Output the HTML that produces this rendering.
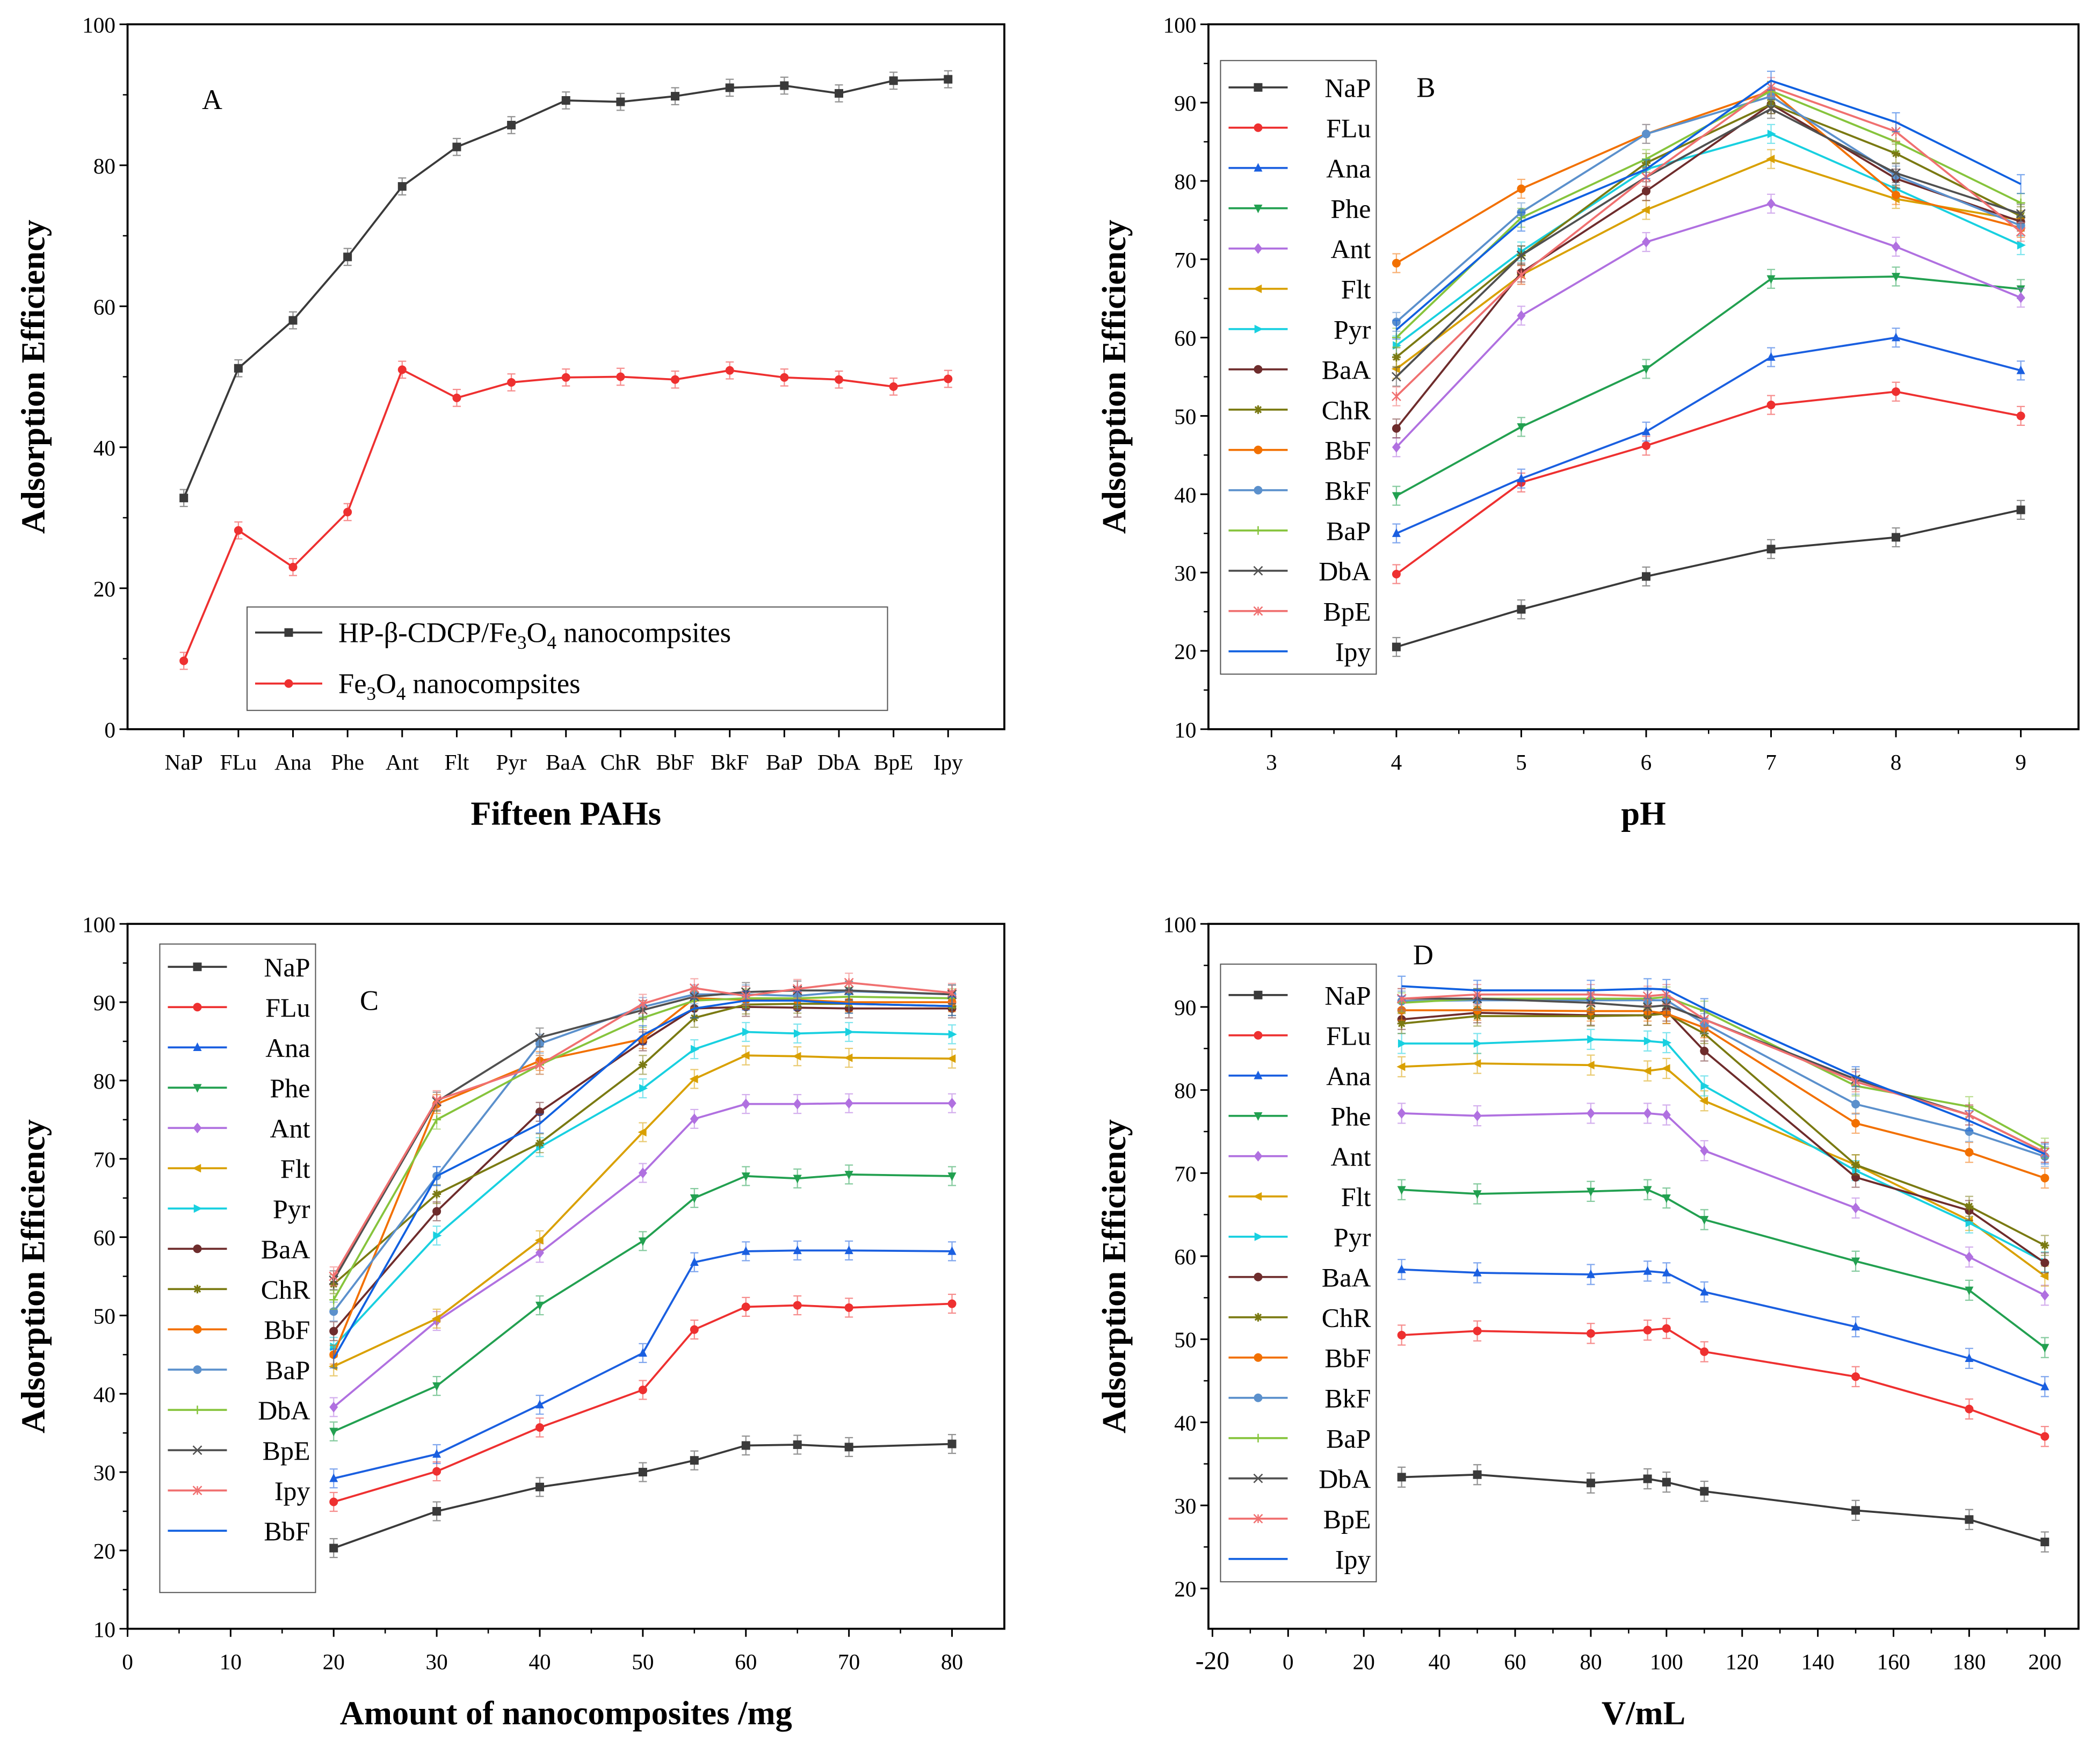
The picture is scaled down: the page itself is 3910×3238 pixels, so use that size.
<!DOCTYPE html>
<html><head><meta charset="utf-8">
<style>
html,body{margin:0;padding:0;background:#fff;}
svg{display:block;}
text{font-family:"Liberation Serif",serif;}
</style></head>
<body>
<svg id="chart" width="3910" height="3238" viewBox="0 0 1564 1295" xmlns="http://www.w3.org/2000/svg"></svg>
<script>
// ---------- DATA ----------
const pahNames = ["NaP","FLu","Ana","Phe","Ant","Flt","Pyr","BaA","ChR","BbF","BkF","BaP","DbA","BpE","Ipy"];
const panelALabels = ["NaP","FLu","Ana","Phe","Ant","Flt","Pyr","BaA","ChR","BbF","BkF","BaP","DbA","BpE","Ipy"];
const panelAComposite = [32.8,51.2,58,67,77,82.6,85.7,89.2,89,89.8,91,91.3,90.2,92,92.2];
const panelAFe3O4 = [9.7,28.2,23,30.8,51,47,49.2,49.9,50,49.6,50.9,49.9,49.6,48.6,49.7];

const phX = [4,5,6,7,8,9];
const phSeries = [
 [20.5,25.3,29.5,33,34.5,38],
 [29.8,41.5,46.2,51.4,53.1,50],
 [35,42,48,57.5,60,55.8],
 [39.8,48.6,56,67.5,67.8,66.2],
 [46,62.8,72.2,77.1,71.6,65.1],
 [56,68,76.3,82.8,77.7,75],
 [59,71,81.5,86,79,71.8],
 [48.4,68.3,78.7,89.8,80.3,74.8],
 [57.5,70.5,82.3,89.8,83.5,75.5],
 [69.5,79,86,91.5,78.2,74],
 [62,76,86,90.8,80.7,74.3],
 [60,75.3,82.8,91.5,85,77.2],
 [55,70.5,80.5,89.2,81,75.8],
 [52.5,68,80.5,92,86.3,73.5],
 [61,74.8,81.5,92.8,87.5,79.6]
];
const phTicks = [3,4,5,6,7,8,9];

const amountX = [20,30,40,50,55,60,65,70,80];
const amountNames = ["NaP","FLu","Ana","Phe","Ant","Flt","Pyr","BaA","ChR","BbF","BaP","DbA","BpE","Ipy","BbF"];
const amountSeries = [
 [20.3,25,28.1,30,31.5,33.4,33.5,33.2,33.6],
 [26.2,30.1,35.7,40.5,48.2,51.1,51.3,51,51.5],
 [29.2,32.3,38.6,45.2,56.8,58.2,58.3,58.3,58.2],
 [35.2,41,51.3,59.5,65,67.8,67.5,68,67.8],
 [38.3,49.3,58,68.2,75.1,77,77,77.1,77.1],
 [43.5,49.6,59.6,73.4,80.2,83.2,83.1,82.9,82.8],
 [46,60.2,71.5,79,84,86.2,86,86.2,85.9],
 [48,63.3,76,85,89.2,89.4,89.3,89.2,89.2],
 [54,65.5,72,82,88,89.7,89.8,89.8,89.5],
 [45,77,82.5,85.3,90.5,90.3,90.3,90,90],
 [50.5,67.8,84.7,89.4,91,91,90.8,91.4,91],
 [52,75,82,88,90.2,90.5,90.5,90.7,90.5],
 [54.5,77.3,85.5,89,90.7,91.3,91.5,91.5,91],
 [55,77.5,82,89.8,91.8,90.8,91.7,92.5,91.2],
 [44.5,67.8,74.5,85.8,89.2,90.2,90.2,89.8,89.5]
];
const amountTicks = [0,10,20,30,40,50,60,70,80];

const volX = [30,50,80,95,100,110,150,180,200];
const volSeries = [
 [33.4,33.7,32.7,33.2,32.8,31.7,29.4,28.3,25.6],
 [50.5,51,50.7,51.1,51.3,48.5,45.5,41.6,38.3],
 [58.4,58,57.8,58.2,58,55.7,51.5,47.7,44.3],
 [68,67.5,67.8,68,67,64.4,59.4,55.9,49],
 [77.2,76.9,77.2,77.2,77,72.7,65.8,59.9,55.3],
 [82.8,83.2,83,82.3,82.6,78.7,71,64.3,57.6],
 [85.6,85.6,86.1,85.9,85.7,80.5,70.3,64,59.3],
 [88.5,89.3,89,89,89.5,84.7,69.5,65.5,59.2],
 [88,88.9,88.9,89,89.2,86.8,71,66,61.3],
 [89.6,89.6,89.5,89.5,89.2,87.5,76,72.5,69.4],
 [90.7,90.8,90.8,90.8,90.8,88,78.3,75,72],
 [90.5,91,91,91,91.2,89.5,80.5,78,73],
 [91,91,90.5,90,90.2,88.5,81.3,77,72.5],
 [91,91.5,91.5,91.3,91.5,88.5,81,77,72.5],
 [92.5,92,92,92.2,92.1,89.8,81.6,76.3,72.3]
];
const volTicks = [-20,0,20,40,60,80,100,120,140,160,180,200];

// ---------- STYLE ----------
const colors = ["#3a3a3a","#ee3030","#1a5fe0","#22a050","#b070e0","#d9a000","#18d0e0","#6e2c2c","#7a7a12","#f27000","#5b90cc","#86c43c","#505050","#f07070","#1060e0"];
const markers = ["sq","ci","tu","td","di","tl","tr","ci","st","ci","ci","pl","x","as","none"];
const colorsC = colors.slice(0,10).concat(["#5b90cc","#86c43c","#505050","#f07070","#1060e0"]);
const markersC = ["sq","ci","tu","td","di","tl","tr","ci","st","ci","ci","pl","x","as","none"];

const svg = document.getElementById('chart');
const NS = "http://www.w3.org/2000/svg";
function el(tag, attrs, parent){
  const e = document.createElementNS(NS, tag);
  for (const k in attrs) e.setAttribute(k, attrs[k]);
  (parent||svg).appendChild(e);
  return e;
}
function txt(s, x, y, size, parent, anchor, weight){
  const t = el('text', {x:x, y:y, 'font-size':size, 'text-anchor':anchor||'middle', 'font-weight':weight||'normal', fill:'#000'}, parent);
  t.textContent = s;
  return t;
}
function marker(g, type, x, y, c){
  const r = 3.2;
  let m;
  if (type==='sq') m = el('rect',{x:x-r,y:y-r,width:2*r,height:2*r,fill:c},g);
  else if (type==='ci') m = el('circle',{cx:x,cy:y,r:r,fill:c},g);
  else if (type==='tu') m = el('polygon',{points:`${x},${y-r-0.5} ${x-r},${y+r-0.5} ${x+r},${y+r-0.5}`,fill:c},g);
  else if (type==='td') m = el('polygon',{points:`${x},${y+r+0.5} ${x-r},${y-r+0.5} ${x+r},${y-r+0.5}`,fill:c},g);
  else if (type==='di') m = el('polygon',{points:`${x},${y-r-0.8} ${x+r},${y} ${x},${y+r+0.8} ${x-r},${y}`,fill:c},g);
  else if (type==='tl') m = el('polygon',{points:`${x-r-0.5},${y} ${x+r-0.5},${y-r} ${x+r-0.5},${y+r}`,fill:c},g);
  else if (type==='tr') m = el('polygon',{points:`${x+r+0.5},${y} ${x-r+0.5},${y-r} ${x-r+0.5},${y+r}`,fill:c},g);
  else if (type==='st') m = el('path',{d:`M${x-r},${y}L${x+r},${y}M${x},${y-r}L${x},${y+r}M${x-r*0.7},${y-r*0.7}L${x+r*0.7},${y+r*0.7}M${x+r*0.7},${y-r*0.7}L${x-r*0.7},${y+r*0.7}`,stroke:c,'stroke-width':1.3,fill:'none'},g);
  else if (type==='pl') m = el('path',{d:`M${x-r},${y}L${x+r},${y}M${x},${y-r}L${x},${y+r}`,stroke:c,'stroke-width':1,fill:'none'},g);
  else if (type==='x') m = el('path',{d:`M${x-r},${y-r}L${x+r},${y+r}M${x+r},${y-r}L${x-r},${y+r}`,stroke:c,'stroke-width':1,fill:'none'},g);
  else if (type==='as') m = el('path',{d:`M${x-r},${y-r}L${x+r},${y+r}M${x+r},${y-r}L${x-r},${y+r}M${x},${y-r}L${x},${y+r}`,stroke:c,'stroke-width':1,fill:'none'},g);

  return m;
}

function panel(cfg){
  const g = el('g',{});
  
  
  const L=cfg.L,R=cfg.R,T=cfg.T,B=cfg.B;
  const xs = v => L + (v-cfg.xmin)/(cfg.xmax-cfg.xmin)*(R-L);
  const ys = v => B - (v-cfg.ymin)/(cfg.ymax-cfg.ymin)*(B-T);
  // frame
  const frame = el('rect',{x:L,y:T,width:R-L,height:B-T,fill:'none',stroke:'#000','stroke-width':1.5},g);
  
  
  // y ticks
  for (const v of cfg.yTicks){
    const y = ys(v);
    el('line',{x1:L-6,x2:L,y1:y,y2:y,stroke:'#000','stroke-width':1.2},g);
    const t = txt(String(v), L-9, y+6, 16.5, g, 'end');
    
    
  }
  for (let i=0;i<cfg.yTicks.length-1;i++){
    const y = ys((cfg.yTicks[i]+cfg.yTicks[i+1])/2);
    el('line',{x1:L-3.5,x2:L,y1:y,y2:y,stroke:'#000','stroke-width':1},g);
  }
  // x ticks
  cfg.xTicks.forEach((v,i)=>{
    const x = xs(v);
    el('line',{x1:x,x2:x,y1:B,y2:B+6,stroke:'#000','stroke-width':1.2},g);
    const lab = cfg.xLabels ? cfg.xLabels[i] : String(v);
    const t = txt(lab, x, B+30, 16.5, g, 'middle');
    if (cfg.sansMinus && v<0){ t.setAttribute('font-family','Liberation Sans, sans-serif'); t.setAttribute('font-size',19); }
    
    
  });
  if (cfg.xMinor){
    for (let i=0;i<cfg.xTicks.length-1;i++){
      const x = xs((cfg.xTicks[i]+cfg.xTicks[i+1])/2);
      el('line',{x1:x,x2:x,y1:B,y2:B+3.5,stroke:'#000','stroke-width':1},g);
    }
  }
  // titles
  const xt = txt(cfg.xTitle, (L+R)/2, B+71, 25, g, 'middle', 'bold');
  
  
  const cy=(T+B)/2, cx=L-62;
  const yt = txt('Adsorption Efficiency', cx, cy, 25, g, 'middle', 'bold');
  yt.setAttribute('transform',`rotate(-90 ${cx} ${cy})`);
  
  
  const lt = txt(cfg.letter, cfg.letterX, cfg.letterY, 21, g, 'middle');
  
  
  // series
  cfg.series.forEach((vals,si)=>{
    const c = cfg.colors[si];
    const sg = el('g',{},g);
    
    
    const pts = vals.map((v,i)=>xs(cfg.x[i])+','+ys(v)).join(' ');
    const pl = el('polyline',{points:pts,fill:'none',stroke:c,'stroke-width':1.5},sg);
    
    vals.forEach((v,i)=>{
      const x=xs(cfg.x[i]);
      const e=cfg.err;
      el('path',{d:`M${x},${ys(v+e)}L${x},${ys(v-e)}M${x-3},${ys(v+e)}L${x+3},${ys(v+e)}M${x-3},${ys(v-e)}L${x+3},${ys(v-e)}`,stroke:c,'stroke-opacity':0.55,'stroke-width':0.9,fill:'none'},sg);
      marker(sg, cfg.markers[si], x, ys(v), c);
    });
  });
  // legend
  if (cfg.legend){
    const lg = el('g',{},g);
    
    
    const lb = cfg.legend;
    el('rect',{x:lb.x,y:lb.y,width:lb.w,height:lb.h,fill:'#fff',stroke:'#555','stroke-width':0.8},lg);
    cfg.names.forEach((n,i)=>{
      const yy = lb.y0 + i*lb.dy;
      const eg = el('g',{},lg);
      
      
      el('line',{x1:lb.x+6,x2:lb.x+6+lb.lineW,y1:yy,y2:yy,stroke:cfg.colors[i],'stroke-width':1.5},eg);
      marker(eg, cfg.markers[i], lb.x+6+lb.lineW/2, yy, cfg.colors[i]);
      if (lb.rich) lb.rich(eg, i, lb.x+lb.lineW+18, yy+7);
      else txt(n, lb.textX, yy+7, 20, eg, 'end');
    });
  }
}

// Panel A
panel({name:'panel-a-pahs', L:95,R:748,T:18,B:543, xmin:-1.03,xmax:15.03, ymin:0,ymax:100,
  yTicks:[0,20,40,60,80,100], xTicks:[...Array(15).keys()], xLabels:panelALabels,
  xTitle:'Fifteen PAHs', letter:'A', letterX:158, letterY:81,
  x:[...Array(15).keys()], series:[panelAComposite,panelAFe3O4], names:['composite','fe3o4'],
  colors:["#3a3a3a","#ee3030"], markers:["sq","ci"], err:1.2,
  legend:{x:184,y:452,w:477,h:77,y0:471,dy:38,lineW:50,
    rich:(g,i,x,y)=>{
      const t = el('text',{x:x,y:y,'font-size':21,fill:'#000'},g);
      if(i===0){ t.innerHTML='HP-β-CDCP/Fe<tspan font-size="14" dy="5">3</tspan><tspan dy="-5">O</tspan><tspan font-size="14" dy="5">4</tspan><tspan dy="-5"> nanocompsites</tspan>'; }
      else { t.innerHTML='Fe<tspan font-size="14" dy="5">3</tspan><tspan dy="-5">O</tspan><tspan font-size="14" dy="5">4</tspan><tspan dy="-5"> nanocompsites</tspan>'; }
    }}
});

// Panel B
panel({name:'panel-b-ph', L:900,R:1548,T:18,B:543, xmin:2.495,xmax:9.462, ymin:10,ymax:100,
  yTicks:[10,20,30,40,50,60,70,80,90,100], xTicks:phTicks, xMinor:true,
  xTitle:'pH', letter:'B', letterX:1062, letterY:72,
  x:phX, series:phSeries, names:pahNames, colors:colors, markers:markers, err:1.2,
  legend:{x:909,y:45,w:116,h:457,y0:65,dy:30,lineW:44,textX:1021}
});

// Panel C
panel({name:'panel-c-amount', L:95,R:748,T:688,B:1213, xmin:0,xmax:85.08, ymin:10,ymax:100,
  yTicks:[10,20,30,40,50,60,70,80,90,100], xTicks:amountTicks, xMinor:true,
  xTitle:'Amount of  nanocomposites /mg', letter:'C', letterX:275, letterY:752,
  x:amountX, series:amountSeries, names:amountNames, colors:colorsC, markers:markersC, err:1.2,
  legend:{x:119,y:703,w:116,h:483,y0:720,dy:30,lineW:44,textX:231}
});

// Panel D
panel({name:'panel-d-volume', L:900,R:1548,T:688,B:1213, xmin:-21.06,xmax:208.9, ymin:15.15,ymax:100,
  yTicks:[20,30,40,50,60,70,80,90,100], xTicks:volTicks, xMinor:true, sansMinus:true,
  xTitle:'V/mL', letter:'D', letterX:1060, letterY:718,
  x:volX, series:volSeries, names:pahNames, colors:colors, markers:markers, err:1.2,
  legend:{x:909,y:718,w:116,h:460,y0:741,dy:30,lineW:44,textX:1021}
});
</script>
</body></html>
